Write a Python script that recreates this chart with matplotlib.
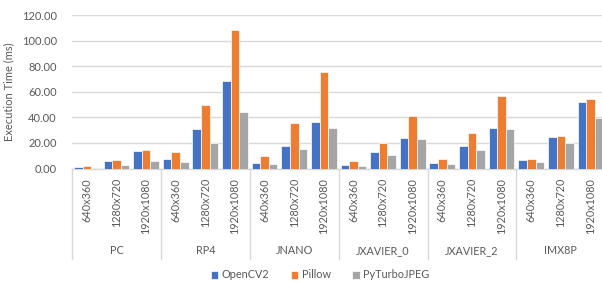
import matplotlib
matplotlib.use('Agg')
import matplotlib.pyplot as plt
import numpy as np

plt.rcParams['font.family'] = ['Lato', 'DejaVu Sans']

# Data
devices = ['PC', 'RP4', 'JNANO', 'JXAVIER_0', 'JXAVIER_2', 'IMX8P']
resolutions = ['640x360', '1280x720', '1920x1080']
series_names = ['OpenCV2', 'Pillow', 'PyTurboJPEG']

opencv2 = [1.3, 6.2, 13.8,
           7.8, 31.2, 68.6,
           4.2, 17.7, 36.4,
           3.1, 13.2, 23.6,
           4.2, 17.7, 31.7,
           6.8, 24.7, 51.9]
pillow = [1.6, 7.0, 14.8,
          13.2, 49.4, 108.3,
          9.4, 35.6, 75.6,
          6.2, 20.3, 41.0,
          7.8, 27.5, 56.6,
          7.3, 25.5, 54.3]
pyturbojpeg = [0.2, 2.9, 5.7,
               4.9, 19.7, 43.9,
               3.9, 15.1, 31.7,
               2.3, 10.6, 22.9,
               3.4, 14.5, 30.9,
               4.9, 19.7, 39.5]

colors = ['#4472C4', '#ED7D31', '#A5A5A5']
text_color = '#595959'
grid_color = '#D9D9D9'

W, H = 602, 281
fig = plt.figure(figsize=(W / 100, H / 100), dpi=100)

# axes box in pixels (right edge runs past the figure, as in the cropped reference)
left_px, right_px = 72, 605.3
top_px, bottom_px = 15.3, 168.5
ax = fig.add_axes([left_px / W, 1 - bottom_px / H,
                   (right_px - left_px) / W, (bottom_px - top_px) / H])

def ypx(y_px):
    # pixel row below the top of the figure -> axes fraction
    return (bottom_px - y_px) / (bottom_px - top_px)

n_cat = len(devices) * len(resolutions)
x = np.arange(n_cat)
pitch = 0.29
for i, (vals, name) in enumerate(zip([opencv2, pillow, pyturbojpeg], series_names)):
    ax.bar(x + (i - 1) * pitch, vals, width=pitch, color=colors[i],
           edgecolor='white', linewidth=0.5, label=name, zorder=3)

ax.set_xlim(-0.5, n_cat - 0.5)
ax.set_ylim(0, 120)
ax.set_yticks(np.arange(0, 121, 20))
ax.set_yticklabels([f'{v:.2f}' for v in np.arange(0, 121, 20)], fontsize=8, color=text_color)
ax.tick_params(axis='y', length=0, pad=11)
ax.set_xticks([])
ax.yaxis.grid(True, color=grid_color, linewidth=1)
ax.set_axisbelow(True)
for side in ['top', 'right', 'left']:
    ax.spines[side].set_visible(False)
ax.spines['bottom'].set_color(grid_color)
ax.spines['bottom'].set_linewidth(1)

ax.set_ylabel('Execution Time (ms)', fontsize=8, color=text_color, labelpad=5)

trans = ax.get_xaxis_transform()

# resolution labels
for k in range(n_cat):
    ax.text(k, ypx(178), resolutions[k % 3], rotation=90, ha='center', va='top',
            fontsize=7.8, color=text_color, transform=trans, clip_on=False)

# device labels and separators
for g, dev in enumerate(devices):
    ax.text(3 * g + 1, ypx(251), dev, ha='center', va='center',
            fontsize=7.8, color=text_color, transform=trans, clip_on=False)
for g in range(len(devices) + 1):
    ax.plot([3 * g - 0.5, 3 * g - 0.5], [0, ypx(259)], color=grid_color,
            linewidth=1, transform=trans, clip_on=False)

fig.legend(loc='center', bbox_to_anchor=(320 / W, 1 - 275 / H), ncol=3,
           frameon=False, fontsize=7.8, handlelength=0.7, handleheight=0.7,
           handletextpad=0.3, columnspacing=2.0, labelcolor=text_color)

fig.savefig('out.png', dpi=100)
